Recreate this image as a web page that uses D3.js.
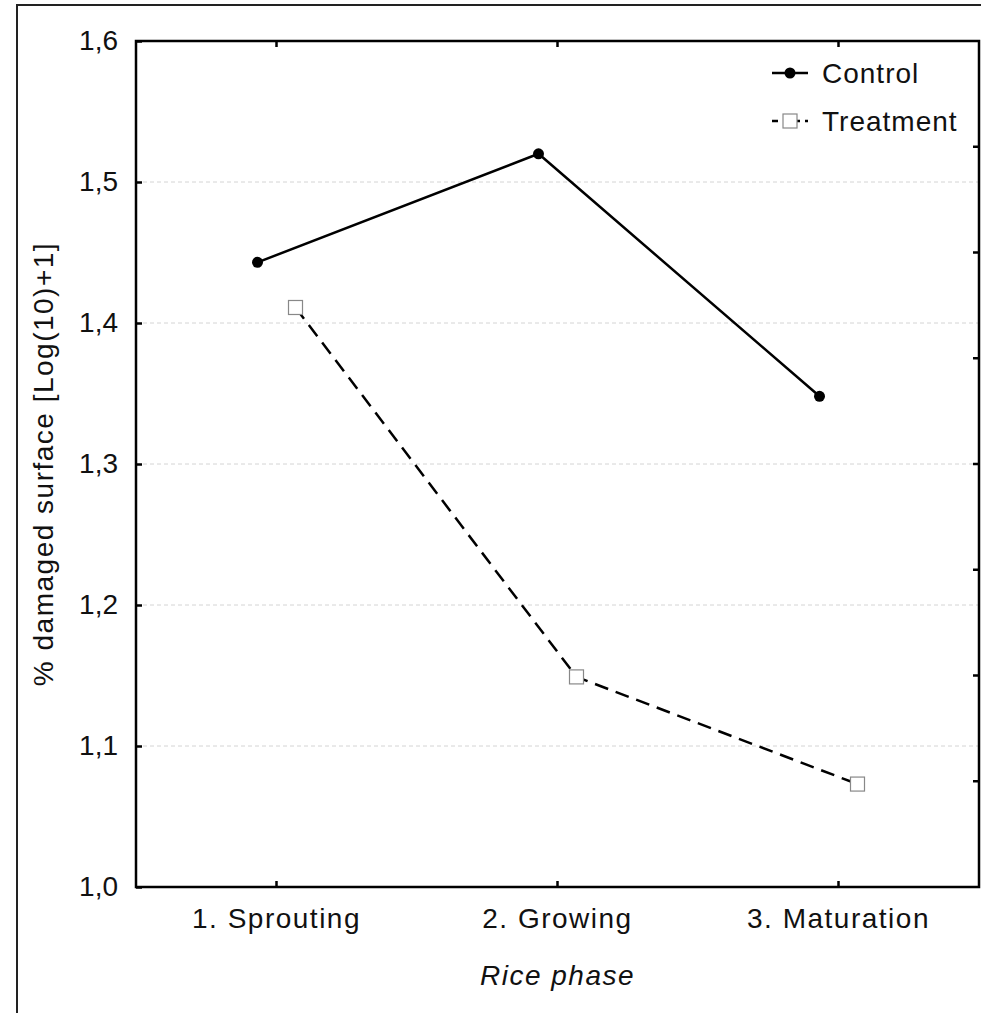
<!DOCTYPE html>
<html>
<head>
<meta charset="utf-8">
<script src="https://cdn.jsdelivr.net/npm/d3@7"></script>
<style>
  body { margin: 0; background: #fff; }
  text { font-family: "Liberation Sans", Arial, sans-serif; fill: #111; }
</style>
</head>
<body>
<div id="chart"></div>
<script>
// Chart data
const phases = ["1. Sprouting", "2. Growing", "3. Maturation"];
const controlValues = [1.443, 1.520, 1.348];
const treatmentValues = [1.411, 1.149, 1.073];
const yTicks = [1.0, 1.1, 1.2, 1.3, 1.4, 1.5, 1.6];
const gridValues = [1.1, 1.2, 1.3, 1.4, 1.5];

const width = 981, height = 1013;
const plot = { left: 136, top: 41, right: 979, bottom: 887 };

const svg = d3.select("#chart").append("svg")
  .attr("width", width)
  .attr("height", height);

// Outer frame
svg.append("rect")
  .attr("x", 17).attr("y", 5)
  .attr("width", 1000).attr("height", 1040)
  .attr("fill", "none").attr("stroke", "#222").attr("stroke-width", 2);

// Scales
const x = d3.scaleBand().domain(phases).range([plot.left, plot.right]);
const y = d3.scaleLinear().domain([1.0, 1.6]).range([plot.bottom, plot.top]);
const offset = 19;

// Dashed gridlines
svg.append("g").selectAll("line").data(gridValues).join("line")
  .attr("x1", plot.left).attr("x2", plot.right)
  .attr("y1", (d) => y(d)).attr("y2", (d) => y(d))
  .attr("stroke", "#d4d4d4").attr("stroke-width", 1)
  .attr("stroke-dasharray", "4,3");

// Left axis with inward ticks
const yAxis = d3.axisLeft(y).tickValues(yTicks).tickSize(-6).tickPadding(18)
  .tickFormat((d) => d3.format(".1f")(d).replace(".", ","));
const gy = svg.append("g").attr("transform", `translate(${plot.left},0)`).call(yAxis);
gy.select(".domain").remove();
gy.selectAll("line").attr("stroke", "#000").attr("stroke-width", 2.5);
gy.selectAll("text").style("font-size", "28px").attr("fill", "#111");

// Bottom axis with inward ticks
const xAxis = d3.axisBottom(x).tickSize(-6).tickPadding(21);
const gx = svg.append("g").attr("transform", `translate(0,${plot.bottom})`).call(xAxis);
gx.select(".domain").remove();
gx.selectAll("line").attr("stroke", "#000").attr("stroke-width", 2.5);
gx.selectAll("text").style("font-size", "28px").style("letter-spacing", "1.5px").attr("fill", "#111");

// Top ticks
svg.append("g").selectAll("line").data(phases).join("line")
  .attr("x1", (d) => x(d) + x.bandwidth() / 2).attr("x2", (d) => x(d) + x.bandwidth() / 2)
  .attr("y1", plot.top).attr("y2", plot.top + 6)
  .attr("stroke", "#000").attr("stroke-width", 2.5);

// Right ticks (secondary axis, 8 divisions)
const yRight = d3.scaleLinear().domain([0, 8]).range([plot.bottom, plot.top]);
svg.append("g").selectAll("line").data(d3.range(1, 8)).join("line")
  .attr("x1", plot.right - 6).attr("x2", plot.right)
  .attr("y1", (d) => yRight(d)).attr("y2", (d) => yRight(d))
  .attr("stroke", "#000").attr("stroke-width", 2.5);

// Plot frame
svg.append("rect")
  .attr("x", plot.left).attr("y", plot.top)
  .attr("width", plot.right - plot.left).attr("height", plot.bottom - plot.top)
  .attr("fill", "none").attr("stroke", "#000").attr("stroke-width", 2.5);

// Axis titles
svg.append("text")
  .attr("transform", `translate(53,${(plot.top + plot.bottom) / 2}) rotate(-90)`)
  .attr("text-anchor", "middle")
  .style("font-size", "28px").style("letter-spacing", "1.5px")
  .text("% damaged surface [Log(10)+1]");

svg.append("text")
  .attr("x", (plot.left + plot.right) / 2).attr("y", 985)
  .attr("text-anchor", "middle")
  .style("font-size", "28px").style("font-style", "italic").style("letter-spacing", "1.5px")
  .text("Rice phase");

// Series lines
const lineControl = d3.line()
  .x((d, i) => x(phases[i]) + x.bandwidth() / 2 - offset)
  .y((d) => y(d));
const lineTreatment = d3.line()
  .x((d, i) => x(phases[i]) + x.bandwidth() / 2 + offset)
  .y((d) => y(d));

svg.append("path").datum(controlValues)
  .attr("d", lineControl)
  .attr("fill", "none").attr("stroke", "#000").attr("stroke-width", 2.5);

svg.append("path").datum(treatmentValues)
  .attr("d", lineTreatment)
  .attr("fill", "none").attr("stroke", "#000").attr("stroke-width", 2.5)
  .attr("stroke-dasharray", "14,8");

// Markers
svg.append("g").selectAll("circle").data(controlValues).join("circle")
  .attr("cx", (d, i) => x(phases[i]) + x.bandwidth() / 2 - offset)
  .attr("cy", (d) => y(d))
  .attr("r", 5.5).attr("fill", "#000");

const sq = 14;
svg.append("g").selectAll("rect").data(treatmentValues).join("rect")
  .attr("x", (d, i) => x(phases[i]) + x.bandwidth() / 2 + offset - sq / 2)
  .attr("y", (d) => y(d) - sq / 2)
  .attr("width", sq).attr("height", sq)
  .attr("fill", "#fff").attr("stroke", "#888").attr("stroke-width", 1.2);

// Legend
const legend = svg.append("g").attr("transform", "translate(772,73)");
legend.append("line").attr("x1", 0).attr("x2", 36).attr("y1", 0).attr("y2", 0)
  .attr("stroke", "#000").attr("stroke-width", 2.5);
legend.append("circle").attr("cx", 18).attr("cy", 0).attr("r", 5.5).attr("fill", "#000");
legend.append("text").attr("x", 50).attr("y", 10).style("font-size", "28px")
  .style("letter-spacing", "1px").text("Control");

legend.append("line").attr("x1", 0).attr("x2", 36).attr("y1", 48).attr("y2", 48)
  .attr("stroke", "#000").attr("stroke-width", 2.5).attr("stroke-dasharray", "6,5");
legend.append("rect").attr("x", 11).attr("y", 41).attr("width", sq).attr("height", sq)
  .attr("fill", "#fff").attr("stroke", "#888").attr("stroke-width", 1.2);
legend.append("text").attr("x", 50).attr("y", 58).style("font-size", "28px")
  .style("letter-spacing", "1px").text("Treatment");
</script>
</body>
</html>
